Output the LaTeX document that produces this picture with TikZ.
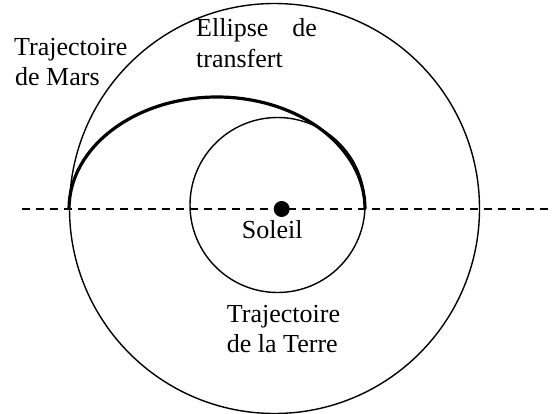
\documentclass[tikz,border=0pt]{standalone}
\usepackage{fontspec}
\setmainfont{Liberation Serif}
\begin{document}
\begin{tikzpicture}[x=1pt,y=-1pt,
  orbit/.style={line width=1.4pt},
  transfer/.style={line width=3.2pt},
  axisline/.style={line width=1.4pt, dash pattern=on 7.5pt off 6.5pt},
  lbl/.style={anchor=base west, inner sep=0pt, font=\fontsize{26}{31}\selectfont}]
\useasboundingbox (0,0) rectangle (557,414);
% axis
\coordinate (axL) at (22,209);
\coordinate (axR) at (548,209);
\draw[axisline] (axL) -- (axR);
% orbits
\coordinate (mars) at (274.5,208.5);
\coordinate (earth) at (277.5,205);
\draw[orbit] (mars) circle[radius=205pt];
\draw[orbit] (earth) circle[radius=87.5pt];
% transfer ellipse (upper half)
\coordinate (peri) at (365,209);
\coordinate (aph) at (69,209);
\draw[transfer] (aph) arc[start angle=180, end angle=0, x radius=148pt, y radius=112pt];
% sun
\node[circle, fill=black, inner sep=0pt, minimum size=16pt] (sun) at (281.7,209) {};
% labels
\node[lbl] (mars1) at (14,56) {Trajectoire};
\node[lbl] (mars2) at (15,86) {de Mars};
\node[lbl] (ell1) at (196,37) {\makebox[120.7pt][s]{Ellipse de}};
\node[lbl] (ell2) at (196,68) {transfert};
\node[lbl] (soleil) at (241.7,238.5) {Soleil};
\node[lbl] (terre1) at (226.7,322.7) {Trajectoire};
\node[lbl] (terre2) at (226.7,352.7) {de la Terre};
\end{tikzpicture}
\end{document}
